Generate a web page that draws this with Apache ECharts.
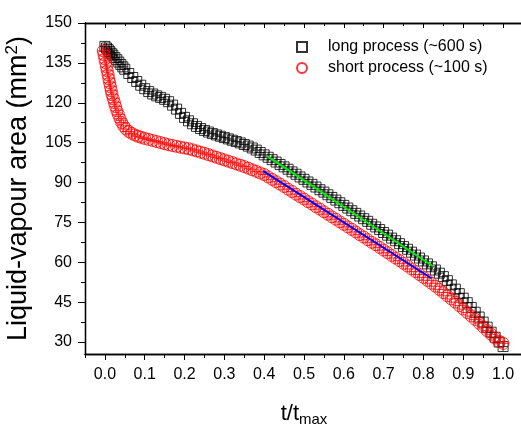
<!DOCTYPE html>
<html>
<head>
<meta charset="utf-8">
<script src="https://cdn.jsdelivr.net/npm/echarts@6/dist/echarts.min.js"></script>
<style>
  html, body { margin: 0; padding: 0; background: #fff; }
  #chart { width: 521px; height: 424px; }
</style>
</head>
<body>
<div id="chart"></div>
<script>
// long process (~600 s): t/tmax and area (mm2)
var longT = [0, 0.004, 0.008, 0.012, 0.016, 0.02, 0.025, 0.03, 0.035, 0.04, 0.045, 0.05, 0.06, 0.07, 0.08, 0.09,
  0.1, 0.11, 0.12, 0.13, 0.14, 0.15, 0.16, 0.17, 0.18, 0.19, 0.2, 0.21, 0.22, 0.23, 0.24, 0.25, 0.26, 0.27, 0.28, 0.29,
  0.3, 0.31, 0.32, 0.33, 0.34, 0.35, 0.36, 0.37, 0.38, 0.39, 0.4, 0.41, 0.42, 0.43, 0.44, 0.45, 0.46, 0.47, 0.48, 0.49,
  0.5, 0.51, 0.52, 0.53, 0.54, 0.55, 0.56, 0.57, 0.58, 0.59, 0.6, 0.61, 0.62, 0.63, 0.64, 0.65, 0.66, 0.67, 0.68, 0.69,
  0.7, 0.71, 0.72, 0.73, 0.74, 0.75, 0.76, 0.77, 0.78, 0.79, 0.8, 0.81, 0.82, 0.83, 0.84, 0.85, 0.86, 0.87, 0.88, 0.89,
  0.9, 0.91, 0.92, 0.93, 0.94, 0.95, 0.96, 0.97, 0.98, 0.99, 1.0];
var longArea = [141.2, 140.6, 140.0, 139.3, 138.6, 137.9, 137.0, 136.2, 135.3, 134.4, 133.5, 132.6, 131.0, 129.5, 128.0, 126.6,
  125.3, 124.2, 123.3, 122.6, 122.0, 121.3, 120.4, 119.1, 117.6, 116.0, 114.5, 113.2, 112.1, 111.1, 110.3, 109.6, 109.0, 108.4, 107.9, 107.4,
  106.9, 106.4, 105.9, 105.4, 104.9, 104.3, 103.7, 103.0, 102.2, 101.3, 100.4, 99.5, 98.6, 97.7, 96.8, 95.9, 95.0, 94.0, 93.1, 92.1,
  91.2, 90.2, 89.3, 88.3, 87.3, 86.4, 85.4, 84.4, 83.4, 82.4, 81.4, 80.4, 79.4, 78.4, 77.4, 76.4, 75.4, 74.3, 73.3, 72.3,
  71.2, 70.2, 69.1, 68.1, 67.0, 65.9, 64.9, 63.8, 62.7, 61.6, 60.5, 59.4, 58.3, 57.1, 55.9, 54.6, 53.1, 51.5, 49.9, 48.2,
  46.5, 44.8, 43.0, 41.2, 39.4, 37.5, 35.6, 33.7, 31.8, 30.0, 28.3];

// short process (~100 s)
var shortT = [-0.004, -0.002, 0.0, 0.002, 0.004, 0.006, 0.008, 0.01, 0.012, 0.014, 0.016, 0.018, 0.021, 0.024, 0.027, 0.03,
  0.034, 0.038, 0.042, 0.047, 0.053, 0.06, 0.067, 0.075, 0.083, 0.091, 0.1, 0.11, 0.12, 0.13, 0.14, 0.15, 0.16, 0.17, 0.18, 0.19,
  0.2, 0.21, 0.22, 0.23, 0.24, 0.25, 0.26, 0.27, 0.28, 0.29, 0.3, 0.31, 0.32, 0.33, 0.34, 0.35, 0.36, 0.37, 0.38, 0.39,
  0.4, 0.41, 0.42, 0.43, 0.44, 0.45, 0.46, 0.47, 0.48, 0.49, 0.5, 0.51, 0.52, 0.53, 0.54, 0.55, 0.56, 0.57, 0.58, 0.59,
  0.6, 0.61, 0.62, 0.63, 0.64, 0.65, 0.66, 0.67, 0.68, 0.69, 0.7, 0.71, 0.72, 0.73, 0.74, 0.75, 0.76, 0.77, 0.78, 0.79,
  0.8, 0.81, 0.82, 0.83, 0.84, 0.85, 0.86, 0.87, 0.88, 0.89, 0.9, 0.91, 0.92, 0.93, 0.94, 0.95, 0.96, 0.97, 0.98, 0.99, 1.0];
var shortArea = [139.5, 138.0, 136.5, 135.0, 133.5, 132.0, 130.5, 129.0, 127.5, 126.0, 124.5, 123.0, 121.5, 120.0, 118.5, 117.0,
  115.5, 114.0, 112.6, 111.3, 110.1, 109.2, 108.5, 107.9, 107.4, 107.0, 106.6, 106.2, 105.8, 105.4, 105.0, 104.6, 104.2, 103.9, 103.6, 103.3,
  103.0, 102.7, 102.3, 101.9, 101.4, 101.0, 100.5, 100.0, 99.5, 99.0, 98.5, 98.0, 97.5, 97.0, 96.5, 96.0, 95.4, 94.8, 94.2, 93.6,
  93.0, 92.1, 91.2, 90.3, 89.4, 88.5, 87.5, 86.6, 85.6, 84.7, 83.8, 82.8, 81.9, 80.9, 80.0, 79.0, 78.1, 77.1, 76.2, 75.2,
  74.3, 73.3, 72.4, 71.4, 70.4, 69.5, 68.5, 67.5, 66.6, 65.6, 64.6, 63.6, 62.6, 61.6, 60.6, 59.6, 58.6, 57.5, 56.5, 55.4,
  54.3, 53.2, 52.1, 51.0, 49.8, 48.6, 47.4, 46.2, 45.0, 43.7, 42.4, 41.1, 39.8, 38.5, 37.1, 35.7, 34.3, 32.9, 31.5, 30.2, 29.5];

// linear fits
var longFitT = [0.407, 0.824];
var longFitArea = [100.0, 58.5];
var shortFitT = [0.397, 0.82];
var shortFitArea = [94.4, 54.0];

// ticks
var xTicks = [0, 0.1, 0.2, 0.3, 0.4, 0.5, 0.6, 0.7, 0.8, 0.9, 1.0];
var xMinorTicks = [-0.05, 0.05, 0.15, 0.25, 0.35, 0.45, 0.55, 0.65, 0.75, 0.85, 0.95, 1.05];
var yTicks = [30, 45, 60, 75, 90, 105, 120, 135, 150];
var yMinorTicks = [37.5, 52.5, 67.5, 82.5, 97.5, 112.5, 127.5, 142.5];

function pairs(xs, ys) {
  return xs.map(function (x, i) { return [x, ys[i]]; });
}

var squareCross = 'path://M-5,-5 L5,-5 L5,5 L-5,5 Z M-5,0 L5,0 M0,-5 L0,5';
var circleCross = 'path://M-6,0 A6,6 0 1,0 6,0 A6,6 0 1,0 -6,0 Z M-6,0 L6,0 M0,-6 L0,6';

var font = 'Liberation Sans, Arial, sans-serif';
var xMin = -0.05, xMax = 1.05, yMin = 25.5, yMax = 150;

function xAxisDef(pos, ticks, len, inside, labels, name) {
  return {
    type: 'value', position: pos, min: xMin, max: xMax,
    name: name || '', nameLocation: 'middle', nameGap: 40,
    nameTextStyle: {
      color: '#000', fontFamily: font,
      rich: {
        a: { fontSize: 22, fontFamily: font, color: '#000', lineHeight: 26 },
        b: { fontSize: 15, fontFamily: font, color: '#000', lineHeight: 26, verticalAlign: 'bottom', padding: [24, 0, 0, 0] }
      }
    },
    axisLine: { show: true, onZero: false, lineStyle: { color: '#000', width: 1.3 } },
    axisTick: { show: true, inside: inside, length: len, customValues: ticks, lineStyle: { color: '#000', width: 1 } },
    axisLabel: {
      show: labels, customValues: ticks, margin: 13, color: '#000', fontSize: 16, fontFamily: font,
      formatter: function (v) { return v.toFixed(1); }
    },
    splitLine: { show: false }
  };
}

function yAxisDef(ticks, len, labels, name) {
  return {
    type: 'value', position: 'left', min: yMin, max: yMax,
    name: name || '', nameLocation: 'middle', nameGap: 45,
    nameTextStyle: {
      color: '#000', fontFamily: font,
      rich: {
        a: { fontSize: 27, fontFamily: font, color: '#000', lineHeight: 30 },
        s: { fontSize: 17, fontFamily: font, color: '#000', lineHeight: 30, verticalAlign: 'top', padding: [0, 0, 14, 0] }
      }
    },
    axisLine: { show: true, onZero: false, lineStyle: { color: '#000', width: 1.3 } },
    axisTick: { show: true, length: len, customValues: ticks, lineStyle: { color: '#000', width: 1 } },
    axisLabel: { show: labels, customValues: ticks, margin: 13, color: '#000', fontSize: 16, fontFamily: font },
    splitLine: { show: false }
  };
}

var chart = echarts.init(document.getElementById('chart'));
chart.setOption({
  backgroundColor: '#fff',
  animation: false,
  grid: { left: 85, top: 23, right: -2, bottom: 70, containLabel: false, outerBoundsMode: 'none' },
  legend: {
    orient: 'vertical', left: 291, top: 34, itemWidth: 10, itemHeight: 10, itemGap: 5,
    textStyle: {
      color: '#000', fontSize: 16, fontFamily: font,
      rich: { t: { fontSize: 16, fontFamily: font, color: '#000', padding: [0, 0, 0, 16] } }
    },
    formatter: function (name) { return '{t|' + name + '}'; },
    data: [
      { name: 'long process (~600 s)', icon: 'rect' },
      { name: 'short process (~100 s)', icon: 'circle' }
    ]
  },
  xAxis: [
    xAxisDef('bottom', xTicks, 6, false, true, '{a|t/t}{b|max}'),
    xAxisDef('bottom', xMinorTicks, 4, false, false),
    xAxisDef('top', xTicks, 5, true, false),
    xAxisDef('top', xMinorTicks, 3, true, false)
  ],
  yAxis: [
    yAxisDef(yTicks, 7, true, '{a|Liquid-vapour area (mm}{s|2}{a|)}'),
    yAxisDef(yMinorTicks, 4, false)
  ],
  series: [
    {
      name: 'long process (~600 s)', type: 'scatter', symbol: squareCross, symbolSize: 10, symbolKeepAspect: true,
      itemStyle: { color: 'rgba(0,0,0,0)', borderColor: '#000', borderWidth: 1 },
      data: pairs(longT, longArea), z: 2
    },
    {
      name: 'short process (~100 s)', type: 'scatter', symbol: circleCross, symbolSize: 12, symbolKeepAspect: true,
      itemStyle: { color: 'rgba(0,0,0,0)', borderColor: '#ff0000', borderWidth: 1 },
      data: pairs(shortT, shortArea), z: 3
    },
    {
      name: 'long fit', type: 'line', symbol: 'none', data: pairs(longFitT, longFitArea),
      lineStyle: { color: '#00ee00', width: 2 }, z: 4
    },
    {
      name: 'short fit', type: 'line', symbol: 'none', data: pairs(shortFitT, shortFitArea),
      lineStyle: { color: '#0000ff', width: 2 }, z: 4
    }
  ]
});
</script>
</body>
</html>
